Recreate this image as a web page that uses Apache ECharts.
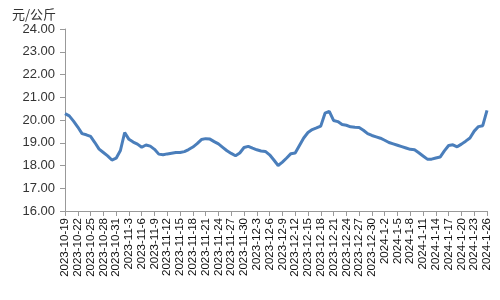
<!DOCTYPE html>
<html>
<head>
<meta charset="utf-8">
<script src="https://cdn.jsdelivr.net/npm/echarts@6/dist/echarts.min.js"></script>
<style>
  html, body { margin: 0; padding: 0; background: #fff; }
  #chart { width: 500px; height: 300px; }
</style>
</head>
<body>
<div id="chart"></div>
<script>
// 日期（每日一个点）
const dates = [
  '2023-10-19','2023-10-20','2023-10-21','2023-10-22','2023-10-23','2023-10-24','2023-10-25','2023-10-26','2023-10-27','2023-10-28',
  '2023-10-29','2023-10-30','2023-10-31','2023-11-1','2023-11-2','2023-11-3','2023-11-4','2023-11-5','2023-11-6','2023-11-7',
  '2023-11-8','2023-11-9','2023-11-10','2023-11-11','2023-11-12','2023-11-13','2023-11-14','2023-11-15','2023-11-16','2023-11-17',
  '2023-11-18','2023-11-19','2023-11-20','2023-11-21','2023-11-22','2023-11-23','2023-11-24','2023-11-25','2023-11-26','2023-11-27',
  '2023-11-28','2023-11-29','2023-11-30','2023-12-1','2023-12-2','2023-12-3','2023-12-4','2023-12-5','2023-12-6','2023-12-7',
  '2023-12-8','2023-12-9','2023-12-10','2023-12-11','2023-12-12','2023-12-13','2023-12-14','2023-12-15','2023-12-16','2023-12-17',
  '2023-12-18','2023-12-19','2023-12-20','2023-12-21','2023-12-22','2023-12-23','2023-12-24','2023-12-25','2023-12-26','2023-12-27',
  '2023-12-28','2023-12-29','2023-12-30','2023-12-31','2024-1-1','2024-1-2','2024-1-3','2024-1-4','2024-1-5','2024-1-6',
  '2024-1-7','2024-1-8','2024-1-9','2024-1-10','2024-1-11','2024-1-12','2024-1-13','2024-1-14','2024-1-15','2024-1-16',
  '2024-1-17','2024-1-18','2024-1-19','2024-1-20','2024-1-21','2024-1-22','2024-1-23','2024-1-24','2024-1-25','2024-1-26'
]

// 价格（元/公斤）
const prices = [
  20.28, 20.18, 19.95, 19.69, 19.40, 19.35, 19.28, 19.01, 18.72, 18.57,
  18.42, 18.24, 18.32, 18.66, 19.45, 19.15, 19.03, 18.94, 18.80, 18.90,
  18.85, 18.71, 18.50, 18.47, 18.51, 18.54, 18.57, 18.57, 18.61, 18.70,
  18.81, 18.96, 19.14, 19.18, 19.16, 19.05, 18.95, 18.80, 18.65, 18.53,
  18.43, 18.55, 18.79, 18.84, 18.76, 18.69, 18.64, 18.62, 18.47, 18.24,
  18.00, 18.15, 18.33, 18.52, 18.55, 18.88, 19.21, 19.45, 19.58, 19.65,
  19.73, 20.30, 20.38, 19.98, 19.93, 19.80, 19.77, 19.70, 19.68, 19.67,
  19.55, 19.40, 19.32, 19.26, 19.20, 19.11, 19.01, 18.95, 18.89, 18.83,
  18.77, 18.71, 18.69, 18.56, 18.42, 18.28, 18.28, 18.33, 18.37, 18.64,
  18.88, 18.91, 18.82, 18.94, 19.07, 19.21, 19.51, 19.71, 19.75, 20.42
]

const yMin = 16
const yMax = 24
const yStep = 1

const chart = echarts.init(document.getElementById('chart'))

const option = {
  animation: false,
  title: {
    text: '元/公斤',
    left: 7,
    top: 3,
    textStyle: {
      fontSize: 13,
      fontWeight: 'normal',
      color: '#333',
      fontFamily: 'Noto Sans CJK SC'
    }
  },
  grid: {
    left: 65,
    right: 13,
    top: 29,
    bottom: 89
  },
  xAxis: {
    type: 'category',
    boundaryGap: false,
    data: dates,
    axisLine: { lineStyle: { color: '#999', width: 1 } },
    axisTick: { interval: 2, length: 5, lineStyle: { color: '#999' } },
    axisLabel: {
      interval: 2,
      rotate: 90,
      margin: 7,
      fontSize: 11.5,
      color: '#111',
      fontFamily: 'Liberation Sans'
    },
    splitLine: { show: false }
  },
  yAxis: {
    type: 'value',
    min: yMin,
    max: yMax,
    interval: yStep,
    axisLine: { show: true, lineStyle: { color: '#999', width: 1 } },
    axisTick: { show: true, length: 5, lineStyle: { color: '#999' } },
    axisLabel: {
      margin: 10,
      fontSize: 13,
      color: '#333',
      fontFamily: 'Liberation Sans',
      formatter: (v) => v.toFixed(2)
    },
    splitLine: { show: false }
  },
  series: [
    {
      type: 'line',
      data: prices,
      showSymbol: false,
      lineStyle: { width: 3, color: '#4a7ebb' },
      itemStyle: { color: '#4a7ebb' }
    }
  ]
}

chart.setOption(option)
</script>
</body>
</html>
